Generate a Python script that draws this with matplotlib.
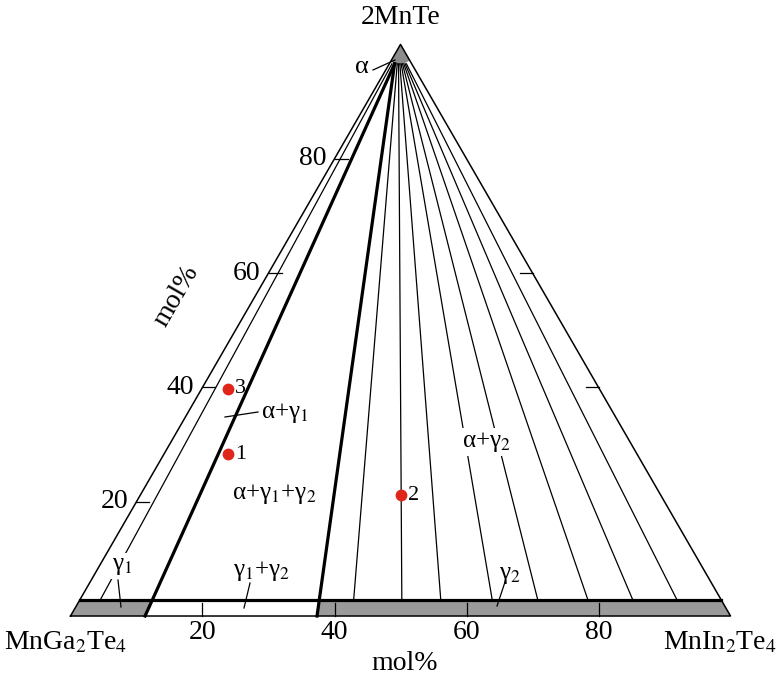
import numpy as np
import matplotlib
matplotlib.use('Agg')
import matplotlib.pyplot as plt

plt.rcParams['font.family'] = ['Liberation Serif', 'DejaVu Serif']
plt.rcParams['mathtext.fontset'] = 'stix'

# ternary data, mol% (c = 2MnTe, b = MnIn2Te4)
axis_ticks = [20, 40, 60, 80]
right_ticks = [40, 60]
alpha_limit = 96.6          # 2MnTe content of the alpha phase boundary
gamma_limit = 2.8           # 2MnTe content of the gamma solid solutions
three_phase_alpha_b = 0.8   # alpha corner of the three-phase triangle
three_phase_gamma_b = [11.3, 37.35]   # gamma1 / gamma2 corners (on the base)
gamma1_tie_alpha_b = [0.4]
gamma1_tie_gamma_b = [3.1]
gamma2_tie_alpha_b = [1.2, 1.4, 1.6, 1.8, 2.0, 2.2, 2.4, 2.6]
gamma2_tie_gamma_b = [41.5, 48.8, 54.7, 62.5, 69.4, 77.0, 83.8, 90.5]
point_ids = ['1', '2', '3']
point_mnte = [28.3, 21.1, 39.8]
point_inte = [9.7, 39.5, 4.0]

S3 = np.sqrt(3) / 2


def tern(b, c):
    b = np.asarray(b, dtype=float) / 100
    c = np.asarray(c, dtype=float) / 100
    return b + c / 2, c * S3


def px(x, y):
    # layout helper: pixel position in the 776x677 frame -> axes data
    return (x - 70.5) / 660, (616 - y) / 660


fig = plt.figure(figsize=(7.76, 6.77), dpi=100)
ax = fig.add_axes([0, 0, 1, 1])
ax.set_xlim(-0.1068, 1.0689)
ax.set_ylim(-0.0924, 0.9333)
ax.axis('off')

gray = '#9a9a9a'
thin = 0.9
thick = 2.3

# gamma band along the base
band_x, band_y = tern([0, 100, 100 - gamma_limit, 0], [0, 0, gamma_limit, gamma_limit])
ax.fill(band_x, band_y, color=gray, lw=0, zorder=1)


def on_line(b0, c0, b1, c1, c):
    t = (c0 - c) / (c0 - c1)
    return b0 + (b1 - b0) * t


g1_top = on_line(three_phase_alpha_b, alpha_limit, three_phase_gamma_b[0], 0, gamma_limit)
g2_top = on_line(three_phase_alpha_b, alpha_limit, three_phase_gamma_b[1], 0, gamma_limit)
wx, wy = tern([three_phase_gamma_b[0], three_phase_gamma_b[1], g2_top, g1_top],
              [0, 0, gamma_limit, gamma_limit])
ax.fill(wx, wy, color='white', lw=0, zorder=1.5)

# alpha cap at the apex
bb = np.linspace(0, 100 - alpha_limit - 0.6, 30)
cc = alpha_limit + 0.6 - 0.9 * np.sin(np.pi * bb / bb[-1])
cap_b = np.concatenate([[0], bb, [0]])
cap_c = np.concatenate([[100], cc, [100]])
cap_c[1] = alpha_limit + 0.6
cx, cy = tern(cap_b, cap_c)
ax.fill(cx, cy, color='#8c8c8c', lw=0, zorder=1)

# triangle outline
tx, ty = tern([0, 100, 0, 0], [0, 0, 100, 0])
ax.plot(tx, ty, color='black', lw=1.1, zorder=3)

# top of the gamma band
hx, hy = tern([0, 100 - gamma_limit], [gamma_limit, gamma_limit])
ax.plot(hx, hy, color='black', lw=thick, zorder=3)

# tie lines
for ab, gb in zip(gamma1_tie_alpha_b + gamma2_tie_alpha_b,
                  gamma1_tie_gamma_b + gamma2_tie_gamma_b):
    lx, ly = tern([ab, gb], [alpha_limit, gamma_limit])
    ax.plot(lx, ly, color='black', lw=thin, zorder=2)

# three-phase triangle sides
for gb in three_phase_gamma_b:
    lx, ly = tern([three_phase_alpha_b, gb], [alpha_limit, 0])
    ax.plot(lx, ly, color='black', lw=thick, zorder=3)

# ticks
tl = 13 / 660
for t in axis_ticks:
    x0, y0 = tern(t, 0)
    ax.plot([x0, x0], [0, tl], color='black', lw=thin, zorder=3)
    ax.text(x0, -16 / 660, str(t), ha='center', va='center', fontsize=20)
    x1, y1 = tern(0, t)
    ax.plot([x1, x1 + tl], [y1, y1], color='black', lw=thin, zorder=3)
    ax.text(x1 - 8 / 660, y1, str(t), ha='right', va='center', fontsize=20)
for t in right_ticks:
    x2, y2 = tern(100 - t, t)
    ax.plot([x2, x2 - tl], [y2, y2], color='black', lw=thin, zorder=3)

# sample points
pxs, pys = tern(point_inte, point_mnte)
ax.plot(pxs, pys, 'o', color='#e0261b', ms=8.5, mec='none', zorder=5)
for i, lab in enumerate(point_ids):
    ax.text(pxs[i] + 7 / 660, pys[i], lab, ha='left', va='center', fontsize=16, zorder=5)

# names and axis labels
ax.text(*px(401, 18), '2MnTe', ha='center', va='center', fontsize=20)
ax.text(*px(66, 643), 'MnGa$_2$Te$_4$', ha='center', va='center', fontsize=20)
ax.text(*px(720, 643), 'MnIn$_2$Te$_4$', ha='center', va='center', fontsize=20)
ax.text(*px(405, 663), 'mol%', ha='center', va='center', fontsize=20)
ax.text(*px(176, 296), 'mol%', ha='center', va='center', fontsize=20, rotation=60)

# region labels
wbox = dict(facecolor='white', edgecolor='none', pad=1.5)
ax.text(*px(362, 67), 'α', ha='center', va='center', fontsize=19)
ax.text(*px(285, 413), 'α+γ$_1$', ha='center', va='center', fontsize=18)
ax.text(*px(274, 494), 'α+γ$_1$+γ$_2$', ha='center', va='center', fontsize=18)
ax.text(*px(486, 442), 'α+γ$_2$', ha='center', va='center', fontsize=18, bbox=wbox, zorder=4)
ax.text(*px(122, 566), 'γ$_1$', ha='center', va='center', fontsize=18, bbox=wbox, zorder=4)
ax.text(*px(262, 571), 'γ$_1$+γ$_2$', ha='center', va='center', fontsize=18)
ax.text(*px(510, 575), 'γ$_2$', ha='center', va='center', fontsize=18)

# leader lines
leaders = [((373, 70), (395, 60)), ((225, 417), (258, 412)), ((118, 580), (121, 607)),
           ((250, 583), (244, 608)), ((505, 582), (497, 606))]
for p0, p1 in leaders:
    a0, a1 = px(*p0), px(*p1)
    ax.plot([a0[0], a1[0]], [a0[1], a1[1]], color='black', lw=thin, zorder=4)

fig.savefig('out.png', dpi=100)
